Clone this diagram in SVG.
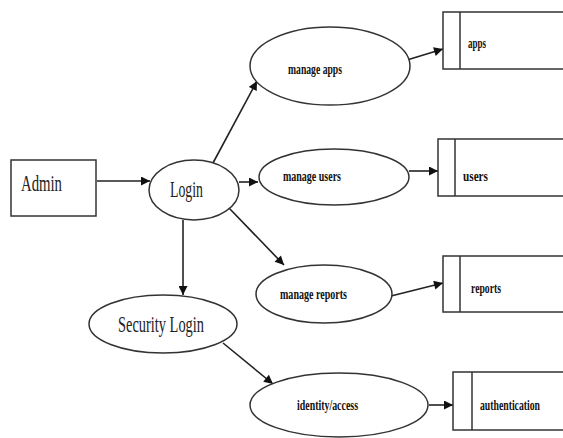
<svg xmlns="http://www.w3.org/2000/svg" width="563" height="438" viewBox="0 0 563 438">
<style>
.sh{fill:#fff;stroke:#333;stroke-width:1.5}
.ln{stroke:#222;stroke-width:1.6;fill:none;marker-end:url(#ah)}
.big{font-family:"Liberation Serif",serif;font-size:23px;fill:#222}
.sm{font-family:"Liberation Serif",serif;font-size:15px;font-weight:bold;fill:#111}
</style>
<defs>
<marker id="ah" viewBox="0 0 10 10" refX="10" refY="5" markerWidth="10" markerHeight="9" orient="auto" markerUnits="userSpaceOnUse">
<path d="M0,0 L10,5 L0,10 z" fill="#111"/>
</marker>
</defs>
<rect width="563" height="438" fill="#fff"/>
<g id="connectors">
<line class="ln" x1="97" y1="181" x2="150" y2="181"/>
<line class="ln" x1="213" y1="163" x2="257" y2="81"/>
<line class="ln" x1="407" y1="60" x2="443" y2="49"/>
<line class="ln" x1="239" y1="182" x2="258" y2="182"/>
<line class="ln" x1="409" y1="171" x2="438" y2="171"/>
<line class="ln" x1="229" y1="208" x2="284" y2="265"/>
<line class="ln" x1="391" y1="296" x2="443" y2="283"/>
<line class="ln" x1="183" y1="220" x2="183" y2="295"/>
<line class="ln" x1="223" y1="343" x2="273" y2="384"/>
<line class="ln" x1="429" y1="405" x2="453" y2="405"/>
</g>
<g id="admin">
<rect class="sh" x="11" y="160" width="85" height="56"/>
<text class="big" x="21" y="191" textLength="41" lengthAdjust="spacingAndGlyphs">Admin</text>
</g>
<g id="login">
<ellipse class="sh" cx="194" cy="190" rx="45" ry="30"/>
<text class="big" x="170" y="197" textLength="33" lengthAdjust="spacingAndGlyphs">Login</text>
</g>
<g id="manage-apps">
<ellipse class="sh" cx="330" cy="66" rx="80" ry="39"/>
<text class="sm" x="288" y="74" textLength="54" lengthAdjust="spacingAndGlyphs">manage apps</text>
</g>
<g id="apps">
<rect class="sh" x="443" y="12" width="130" height="57"/>
<line class="sh" x1="460" y1="12" x2="460" y2="69"/>
<text class="sm" x="468" y="48" textLength="18" lengthAdjust="spacingAndGlyphs">apps</text>
</g>
<g id="manage-users">
<ellipse class="sh" cx="334" cy="177" rx="75" ry="28"/>
<text class="sm" x="283" y="181" textLength="58" lengthAdjust="spacingAndGlyphs">manage users</text>
</g>
<g id="users">
<rect class="sh" x="438" y="139" width="135" height="57"/>
<line class="sh" x1="455" y1="139" x2="455" y2="196"/>
<text class="sm" x="463" y="181" textLength="25" lengthAdjust="spacingAndGlyphs">users</text>
</g>
<g id="manage-reports">
<ellipse class="sh" cx="324" cy="294" rx="68" ry="29"/>
<text class="sm" x="280" y="299" textLength="67" lengthAdjust="spacingAndGlyphs">manage reports</text>
</g>
<g id="reports">
<rect class="sh" x="443" y="256" width="130" height="56"/>
<line class="sh" x1="460" y1="256" x2="460" y2="312"/>
<text class="sm" x="471" y="293" textLength="30" lengthAdjust="spacingAndGlyphs">reports</text>
</g>
<g id="security-login">
<ellipse class="sh" cx="163" cy="324" rx="74" ry="29"/>
<text class="big" x="118" y="332" textLength="86" lengthAdjust="spacingAndGlyphs">Security Login</text>
</g>
<g id="identity-access">
<ellipse class="sh" cx="339" cy="405" rx="89" ry="32"/>
<text class="sm" x="297" y="410" textLength="61" lengthAdjust="spacingAndGlyphs">identity/access</text>
</g>
<g id="authentication">
<rect class="sh" x="453" y="372" width="120" height="58"/>
<line class="sh" x1="472" y1="372" x2="472" y2="430"/>
<text class="sm" x="480" y="410" textLength="60" lengthAdjust="spacingAndGlyphs">authentication</text>
</g>
</svg>
